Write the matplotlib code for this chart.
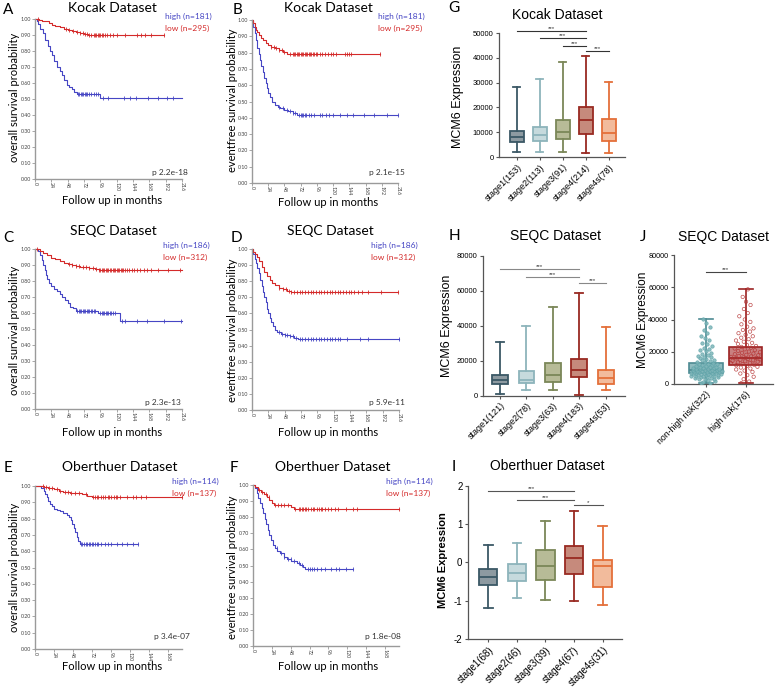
import numpy as np
import matplotlib.pyplot as plt

plt.rcParams['font.family'] = ['Lato', 'DejaVu Sans']

W, H = 778, 698

# ---------------- Kaplan-Meier data (months, survival after step) ----------------
A_high_t = [0, 3, 5, 8, 12, 15, 19, 22, 25, 28, 32, 36, 39, 43, 47, 50, 54, 58, 61, 95]
A_high_s = [1.0, .985, .97, .94, .91, .87, .83, .80, .775, .74, .70, .675, .65, .62, .59, .575, .56, .545, .53, .505]
A_high_c = [63, 65, 67, 69, 71, 73, 75, 77, 79, 82, 86, 90, 93, 100, 108, 131, 140, 149, 166, 181, 194, 203]
A_low_t = [0, 6, 10, 15, 20, 25, 30, 36, 42, 48, 54, 60, 66, 72, 78]
A_low_s = [1.0, .995, .99, .985, .975, .965, .955, .948, .94, .932, .925, .918, .912, .905, .90]
A_low_c = [4, 45, 50, 56, 62, 66, 70, 74, 77, 80, 83, 86, 88, 90, 92, 94, 96, 98, 100, 103, 106,
           110, 115, 120, 132, 150, 156, 162, 170, 190]

B_high_t = [0, 2, 4, 6, 8, 10, 12, 14, 16, 18, 20, 22, 24, 27, 30, 34, 38, 42, 48, 54, 60, 66]
B_high_s = [1.0, .96, .92, .875, .83, .79, .755, .715, .68, .645, .615, .585, .555, .525, .50, .48,
            .468, .46, .45, .44, .43, .415]
B_high_c = [40, 46, 52, 56, 60, 64, 70, 72, 74, 76, 78, 80, 84, 88, 92, 100, 104, 110, 114, 120,
            130, 140, 150, 165, 180, 200, 216]
B_low_t = [0, 2, 4, 6, 8, 10, 13, 16, 20, 24, 28, 34, 40, 46, 52]
B_low_s = [1.0, .98, .96, .94, .925, .91, .89, .875, .86, .847, .835, .826, .816, .806, .79]
B_low_c = [28, 32, 36, 40, 44, 48, 56, 60, 62, 64, 66, 68, 70, 72, 74, 76, 78, 80, 82, 84, 86, 88,
           90, 92, 94, 96, 100, 104, 108, 112, 117, 120, 125, 138, 141, 144, 147, 190]

C_high_t = [0, 4, 7, 10, 12, 14, 16, 18, 20, 24, 28, 32, 36, 40, 44, 48, 52, 56, 60, 93, 125]
C_high_s = [1.0, .985, .96, .93, .90, .87, .84, .81, .79, .77, .75, .735, .72, .70, .68, .66, .64,
            .63, .615, .60, .552]
C_high_c = [62, 64, 66, 68, 70, 72, 74, 76, 78, 80, 82, 84, 86, 88, 95, 98, 100, 102, 104, 106,
            108, 110, 112, 115, 118, 128, 132, 150, 165, 190, 214]
C_low_t = [0, 8, 12, 18, 24, 30, 36, 42, 48, 54, 60, 66, 72, 80, 88, 94]
C_low_s = [1.0, .985, .975, .96, .945, .935, .925, .915, .908, .90, .895, .89, .886, .88, .875, .87]
C_low_c = [3, 50, 55, 60, 65, 70, 75, 80, 85, 90, 94, 96, 98, 100, 102, 104, 106, 108, 110, 112,
           114, 116, 118, 120, 122, 124, 126, 128, 130, 132, 135, 138, 142, 146, 150, 155, 160,
           165, 170, 180, 195, 213]

D_high_t = [0, 2, 4, 6, 8, 10, 12, 14, 16, 18, 20, 22, 24, 26, 28, 31, 34, 37, 42, 48, 56, 62, 68]
D_high_s = [1.0, .97, .94, .91, .88, .85, .81, .77, .73, .70, .67, .63, .60, .57, .545, .52, .50,
            .486, .475, .468, .459, .45, .44]
D_high_c = [40, 44, 48, 52, 56, 60, 64, 70, 74, 78, 82, 86, 90, 94, 98, 102, 106, 110, 114, 118,
            122, 126, 130, 140, 158, 170, 216]
D_low_t = [0, 2, 4, 7, 10, 14, 18, 22, 26, 30, 34, 40, 46, 52, 58, 64]
D_low_s = [1.0, .98, .97, .95, .925, .89, .86, .835, .81, .79, .776, .76, .749, .742, .735, .73]
D_low_c = [40, 46, 50, 54, 58, 62, 66, 70, 74, 78, 82, 86, 90, 94, 98, 102, 106, 110, 114, 118,
           122, 126, 130, 134, 138, 142, 146, 150, 156, 162, 170, 190, 214]

E_high_t = [0, 8, 11, 13, 15, 17, 19, 21, 24, 28, 32, 36, 40, 43, 45, 47, 49, 51, 53, 55, 57]
E_high_s = [1.0, .99, .97, .95, .93, .91, .89, .875, .86, .85, .845, .835, .825, .81, .79, .765,
            .74, .715, .69, .665, .645]
E_high_c = [58, 60, 62, 64, 66, 68, 70, 72, 74, 76, 78, 80, 84, 88, 92, 96, 104, 110, 116, 124, 130]
E_low_t = [0, 12, 16, 20, 24, 30, 36, 44, 52, 60, 66, 72]
E_low_s = [1.0, .995, .99, .985, .98, .97, .965, .96, .955, .95, .94, .93]
E_low_c = [10, 14, 18, 22, 28, 32, 38, 42, 46, 50, 56, 64, 74, 76, 78, 80, 84, 86, 88, 92, 94, 96,
           100, 102, 104, 108, 116, 124, 128, 134, 140, 186]

F_high_t = [0, 3, 5, 7, 9, 11, 13, 15, 17, 19, 21, 23, 25, 28, 31, 35, 39, 43, 49, 56, 60, 64, 66]
F_high_s = [1.0, .98, .95, .92, .89, .86, .825, .79, .76, .72, .69, .66, .63, .61, .59, .575, .555,
            .54, .53, .515, .503, .49, .476]
F_high_c = [30, 36, 40, 44, 48, 52, 58, 62, 70, 72, 75, 78, 82, 86, 92, 100, 106, 110, 118, 127]
F_low_t = [0, 3, 6, 10, 14, 18, 21, 24, 27, 48, 52]
F_low_s = [1.0, .985, .97, .955, .945, .925, .905, .89, .875, .865, .848]
F_low_c = [8, 12, 16, 20, 28, 32, 36, 40, 44, 54, 58, 60, 62, 64, 66, 68, 70, 74, 76, 78, 82, 84,
           86, 88, 92, 96, 100, 104, 108, 118, 128, 132, 186]

# ---------------- Box plot data (whisker low, q1, median, q3, whisker high) ----------------
G_labels = ['stage1(153)', 'stage2(113)', 'stage3(91)', 'stage4(214)', 'stage4s(78)']
G_lo = [2000, 2150, 1900, 1600, 1600]
G_q1 = [6200, 6450, 7100, 9270, 6450]
G_med = [8200, 9000, 10200, 14900, 9800]
G_q3 = [10600, 12000, 14900, 20300, 15300]
G_hi = [28100, 31400, 38400, 40800, 30400]
G_sig = [(0, 3, 50800, '***'), (1, 3, 47900, '***'), (2, 3, 44900, '***'), (3, 4, 42900, '***')]

H_labels = ['stage1(121)', 'stage2(78)', 'stage3(63)', 'stage4(183)', 'stage4s(53)']
H_lo = [1000, 3100, 3100, 500, 3100]
H_q1 = [6400, 6970, 7540, 10400, 6400]
H_med = [8860, 8860, 11900, 14600, 10200]
H_q3 = [11900, 14200, 18400, 20700, 14600]
H_hi = [30600, 39900, 50700, 58700, 39100]
H_sig = [(0, 3, 72500, '***'), (1, 3, 67900, '***'), (3, 4, 64100, '***')]

I_labels = ['stage1(68)', 'stage2(46)', 'stage3(39)', 'stage4(67)', 'stage4s(31)']
I_lo = [-1.18, -0.93, -0.99, -1.02, -1.12]
I_q1 = [-0.58, -0.48, -0.47, -0.31, -0.64]
I_med = [-0.38, -0.29, -0.10, 0.12, -0.10]
I_q3 = [-0.17, -0.04, 0.31, 0.43, 0.07]
I_hi = [0.45, 0.50, 1.08, 1.35, 0.94]
I_sig = [(0, 3, 1.85, '***'), (1, 3, 1.62, '***'), (3, 4, 1.50, '*')]

J_labels = ['non-high risk(322)', 'high risk(176)']
J_lo = [430, 430]
J_q1 = [6600, 11800]
J_med = [8680, 16300]
J_q3 = [13200, 23100]
J_hi = [40100, 58700]
J_sig = [(0, 1, 69600, '***')]
J_nonhigh_k = [0.4, 0.9, 1.5, 2.0, 2.4, 2.8, 3.1, 3.4, 3.7, 3.9, 4.1, 4.3, 4.5, 4.7, 4.9, 5.0, 5.2,
               5.3, 5.5, 5.6, 5.8, 5.9, 6.0, 6.2, 6.3, 6.4, 6.6, 6.7, 6.8, 7.0, 7.1, 7.2, 7.4, 7.5,
               7.6, 7.8, 7.9, 8.0, 8.2, 8.3, 8.4, 8.6, 8.7, 8.9, 9.0, 9.2, 9.3, 9.5, 9.7, 9.9, 10.1,
               10.3, 10.5, 10.7, 10.9, 11.2, 11.5, 11.8, 12.1, 12.4, 12.7, 13.0, 13.4, 13.8, 14.2,
               14.6, 15.0, 15.5, 16.0, 16.5, 17.0, 17.6, 18.2, 18.8, 19.5, 20.2, 21.0, 21.8, 22.6,
               23.5, 24.5, 25.6, 27.0, 28.5, 30.0, 31.6, 33.5, 35.5, 37.8, 40.1]
J_high_k = [0.5, 1.5, 3.0, 4.5, 5.5, 6.5, 7.5, 8.3, 9.0, 9.6, 10.2, 10.7, 11.2, 11.6, 12.0, 12.4,
            12.8, 13.1, 13.4, 13.8, 14.1, 14.4, 14.7, 15.0, 15.3, 15.6, 15.9, 16.2, 16.5, 16.8,
            17.1, 17.4, 17.8, 18.1, 18.5, 18.9, 19.3, 19.7, 20.1, 20.5, 21.0, 21.5, 22.0, 22.5,
            23.0, 23.6, 24.2, 24.8, 25.5, 26.2, 27.0, 27.8, 28.7, 29.6, 30.5, 31.5, 32.5, 33.5,
            34.5, 35.5, 37.0, 38.5, 40.0, 42.0, 44.0, 46.5, 49.0, 51.0, 54.0, 58.7]

BLUE = '#4646c4'
RED = '#d42a2a'
EDGE = ['#3b5866', '#8db4bb', '#7b8758', '#992a22', '#e4703a']
FILL = ['#8d9aa1', '#c6dadd', '#b7bb97', '#c68a7c', '#f2bb9c']

fig = plt.figure(figsize=(W / 100, H / 100), dpi=100)


def rect(l, t, r, b):
    return [l / W, 1 - b / H, (r - l) / W, (b - t) / H]


def ftext(x, y, s, **kw):
    fig.text(x / W, 1 - y / H, s, **kw)


def km_axes(r, xmax, xticks):
    ax = fig.add_axes(rect(*r))
    ax.set_xlim(0, xmax)
    ax.set_ylim(0, 1.0)
    for s in ['top', 'right']:
        ax.spines[s].set_visible(False)
    for s in ['left', 'bottom']:
        ax.spines[s].set_color('#9a9a9a')
        ax.spines[s].set_linewidth(1.0)
    yt = np.round(np.arange(0, 1.01, 0.1), 2)
    ax.set_yticks(yt)
    ax.set_yticklabels([f'{v:.2f}' for v in yt])
    ax.set_xticks(xticks)
    ax.set_xticklabels([str(v) for v in xticks], rotation=270)
    ax.tick_params(labelsize=3.8, length=2, width=0.6, color='#999999', labelcolor='#444444', pad=1)
    ax.tick_params(axis='x', pad=0.5)
    return ax


def km(ax, t, s, end, cens, color):
    tt = list(t) + [end]
    ss = list(s) + [s[-1]]
    ax.step(tt, ss, where='post', color=color, lw=0.8, clip_on=False)
    c = np.asarray(cens)
    idx = np.searchsorted(t, c, side='right') - 1
    ax.plot(c, np.asarray(s)[idx], ls='none', marker='|', ms=2.6, mew=0.6, color=color, clip_on=False)


def km_panel(r, xmax, xticks, hi, lo, letter, lpos, title, tpos, ylab, ylpos, xlpos,
             legpos, n_hi, n_lo, pval, ppos):
    ax = km_axes(r, xmax, xticks)
    km(ax, *hi, BLUE)
    km(ax, *lo, RED)
    ftext(*lpos, letter, fontsize=11, ha='center', va='center')
    ftext(*tpos, title, fontsize=10, ha='center', va='center')
    ftext(*ylpos, ylab, fontsize=8, rotation=90, ha='center', va='center')
    ftext(*xlpos, 'Follow up in months', fontsize=8, ha='center', va='center')
    ftext(legpos[0], legpos[1], f'high (n={n_hi})', fontsize=6, color=BLUE, ha='left', va='center')
    ftext(legpos[0], legpos[1] + 12, f'low (n={n_lo})', fontsize=6, color=RED, ha='left', va='center')
    ftext(*ppos, pval, fontsize=6, color='#333333', ha='right', va='center')


t216 = list(range(0, 217, 24))
t168 = list(range(0, 169, 24))
OS = 'overall survival probability'
EFS = 'eventfree survival probability'

km_panel((35, 19, 182, 179), 216, t216, (A_high_t, A_high_s, 216, A_high_c),
         (A_low_t, A_low_s, 190, A_low_c), 'A', (8, 10), 'Kocak Dataset', (112, 8), OS, (15, 97),
         (112, 201), (165, 16), 181, 295, 'p 2.2e-18', (188, 173))
km_panel((252, 20, 398, 183), 216, t216, (B_high_t, B_high_s, 216, B_high_c),
         (B_low_t, B_low_s, 190, B_low_c), 'B', (237, 10), 'Kocak Dataset', (328, 8), EFS, (233, 100),
         (328, 202), (378, 16), 181, 295, 'p 2.1e-15', (405, 173))
km_panel((35, 249, 182, 409), 216, t216, (C_high_t, C_high_s, 216, C_high_c),
         (C_low_t, C_low_s, 216, C_low_c), 'C', (8, 238), 'SEQC Dataset', (113, 231), OS, (15, 330),
         (112, 432), (163, 245), 186, 312, 'p 2.3e-13', (181, 403))
km_panel((252, 249, 399, 410), 216, t216, (D_high_t, D_high_s, 216, D_high_c),
         (D_low_t, D_low_s, 214, D_low_c), 'D', (236, 238), 'SEQC Dataset', (330, 231), EFS, (233, 330),
         (328, 432), (371, 245), 186, 312, 'p 5.9e-11', (405, 403))
km_panel((35, 486, 182, 649), 186, t168, (E_high_t, E_high_s, 130, E_high_c),
         (E_low_t, E_low_s, 186, E_low_c), 'E', (8, 468), 'Oberthuer Dataset', (120, 467), OS, (15, 567),
         (112, 667), (172, 481), 114, 137, 'p 3.4e-07', (190, 636))
km_panel((253, 485, 399, 646), 186, t168, (F_high_t, F_high_s, 127, F_high_c),
         (F_low_t, F_low_s, 186, F_low_c), 'F', (234, 468), 'Oberthuer Dataset', (333, 467), EFS, (233, 567),
         (328, 666), (386, 481), 114, 137, 'p 1.8e-08', (401, 636))

# ---------------- Box plot panels ----------------
SANS = ['Liberation Sans', 'DejaVu Sans']


def box_axes(r, xlim, ylim, yticks, labels, tick_fs, lab_fs):
    ax = fig.add_axes(rect(*r))
    for s in ['top', 'right']:
        ax.spines[s].set_visible(False)
    for s in ['left', 'bottom']:
        ax.spines[s].set_color('#555555')
        ax.spines[s].set_linewidth(0.9)
    ax.set_yticks(yticks)
    ax.set_yticklabels([str(v) for v in yticks], family=SANS, fontsize=tick_fs)
    ax.set_xticks(range(len(labels)))
    ax.set_xticklabels(labels, rotation=45, ha='right', rotation_mode='anchor', family=SANS,
                       fontsize=lab_fs)
    ax.tick_params(length=2.5, width=0.8, color='#555555', pad=1.5)
    ax.set_xlim(*xlim)
    ax.set_ylim(*ylim)
    return ax


def boxes(ax, lo, q1, med, q3, hi, width, edges, fills, lw=1.3, capw=0.3):
    for i in range(len(lo)):
        st = dict(whislo=lo[i], q1=q1[i], med=med[i], q3=q3[i], whishi=hi[i])
        ax.bxp([st], positions=[i], widths=width, capwidths=capw, showfliers=False, patch_artist=True,
               manage_ticks=False,
               boxprops=dict(facecolor=fills[i], edgecolor=edges[i], linewidth=lw),
               medianprops=dict(color=edges[i], linewidth=lw),
               whiskerprops=dict(color=edges[i], linewidth=lw),
               capprops=dict(color=edges[i], linewidth=lw))


def sig(ax, items, color, fs=4.5):
    for x1, x2, h, s in items:
        ax.plot([x1, x2], [h, h], color=color, lw=0.8, clip_on=False)
        ax.text((x1 + x2) / 2, h, s, ha='center', va='bottom', fontsize=fs, color='#333333',
                family=SANS)


# G
axG = box_axes((499, 33, 625, 157), (-0.78, 4.7), (0, 50000), list(range(0, 50001, 10000)),
               G_labels, 5.5, 6.5)
boxes(axG, G_lo, G_q1, G_med, G_q3, G_hi, 0.6, EDGE, FILL)
sig(axG, G_sig, '#333333')
ftext(454, 8, 'G', fontsize=11, ha='center', va='center')
ftext(557, 15, 'Kocak Dataset', fontsize=10, ha='center', va='center', family=SANS)
ftext(458, 97, 'MCM6 Expression', fontsize=9, rotation=90, ha='center', va='center', family=SANS)

# H
axH = box_axes((483, 255.7, 625, 395.5), (-0.64, 4.72), (0, 80000), list(range(0, 80001, 20000)),
               H_labels, 5.5, 6.5)
boxes(axH, H_lo, H_q1, H_med, H_q3, H_hi, 0.6, EDGE, FILL)
sig(axH, H_sig, '#888888')
ftext(454, 236, 'H', fontsize=11, ha='center', va='center')
ftext(555, 236, 'SEQC Dataset', fontsize=10, ha='center', va='center', family=SANS)
ftext(447, 326, 'MCM6 Expression', fontsize=9, rotation=90, ha='center', va='center', family=SANS)

# I
axI = box_axes((468, 485.7, 622, 639), (-0.71, 4.68), (-2, 2), [-2, -1, 0, 1, 2],
               I_labels, 7, 7)
boxes(axI, I_lo, I_q1, I_med, I_q3, I_hi, 0.64, EDGE, FILL)
sig(axI, I_sig, '#555555')
ftext(454, 467, 'I', fontsize=11, ha='center', va='center')
ftext(547, 466, 'Oberthuer Dataset', fontsize=10, ha='center', va='center', family=SANS)
ftext(443, 560, 'MCM6 Expression', fontsize=8, fontweight='bold', rotation=90, ha='center',
      va='center', family=SANS)

# J
axJ = box_axes((674, 255, 773, 384), (-0.8, 1.69), (0, 80000), list(range(0, 80001, 20000)),
               J_labels, 5.2, 6.3)
J_edge = ['#4d8a92', '#9b2222']
J_fill = ['#8fbcc0', '#c98080']
boxes(axJ, J_lo, J_q1, J_med, J_q3, J_hi, 0.85, J_edge, J_fill, lw=1.2, capw=0.35)
for i, (vals_k, col, fc) in enumerate([(J_nonhigh_k, '#5ea3a8', '#7fb6ba'),
                                       (J_high_k, '#b53030', 'none')]):
    v = np.asarray(vals_k) * 1000
    cnt = np.array([np.sum(np.abs(v - x) < 2500) for x in v])
    hw = 0.42 * np.sqrt(cnt / cnt.max())
    frac = (np.arange(len(v)) * 0.618034 + 0.13) % 1.0
    axJ.scatter(i + hw * (2 * frac - 1), v, s=6, facecolors=fc, edgecolors=col, linewidths=0.5,
                alpha=0.85, zorder=3)
sig(axJ, J_sig, '#444444')
ftext(643, 237, 'J', fontsize=11, ha='center', va='center')
ftext(724, 237, 'SEQC Dataset', fontsize=10, ha='center', va='center', family=SANS)
ftext(643, 320, 'MCM6 Expression', fontsize=8.5, rotation=90, ha='center', va='center', family=SANS)

fig.savefig('out.png', dpi=100)
